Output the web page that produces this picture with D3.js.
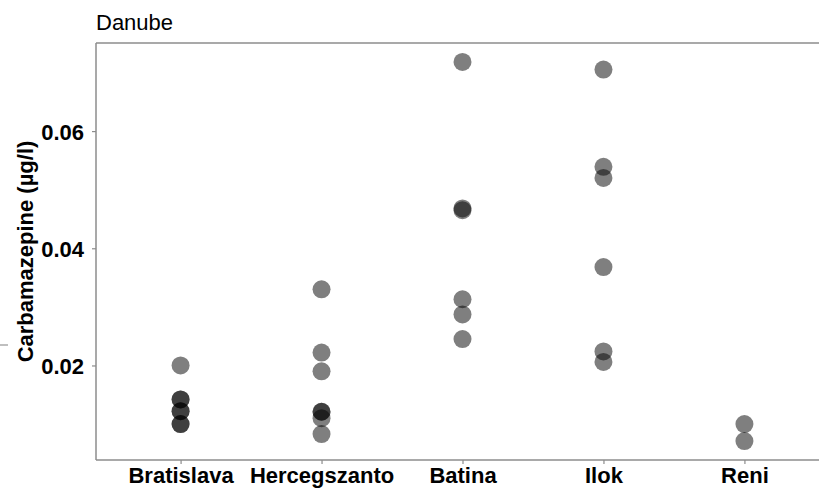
<!DOCTYPE html>
<html>
<head>
<meta charset="utf-8">
<script src="https://cdn.jsdelivr.net/npm/d3@7"></script>
<style>
  body { margin: 0; background: #fff; }
  svg { display: block; font-family: "Liberation Sans", Arial, sans-serif; }
</style>
</head>
<body>
<div id="chart"></div>
<script>
// sampling sites along the Danube and their carbamazepine measurements (µg/l)
const sites = ['Bratislava', 'Hercegszanto', 'Batina', 'Ilok', 'Reni']
const bratislava = [0.020, 0.0142, 0.0142, 0.0122, 0.0122, 0.0100, 0.0100]
const hercegszanto = [0.033, 0.0222, 0.019, 0.0121, 0.0121, 0.0110, 0.0083]
const batina = [0.0718, 0.0468, 0.0465, 0.0313, 0.0287, 0.0245]
const ilok = [0.0705, 0.0539, 0.0520, 0.0368, 0.0224, 0.0206]
const reni = [0.0100, 0.0071]
const yTicks = [0.02, 0.04, 0.06]

const values = [bratislava, hercegszanto, batina, ilok, reni]
const points = []
sites.forEach((site, i) => values[i].forEach(v => points.push({site, value: v})))

const width = 819, height = 488
const margin = {top: 43, right: -10, bottom: 28, left: 96}

const svg = d3.select('#chart').append('svg')
  .attr('width', width)
  .attr('height', height)

// ggplot-ish discrete scale: 0.6 units of padding on each side
const x = d3.scalePoint()
  .domain(sites)
  .range([margin.left, width - margin.right])
  .padding(0.6)

const yMin = d3.min(points, d => d.value), yMax = d3.max(points, d => d.value)
const pad = (yMax - yMin) * 0.05
const y = d3.scaleLinear()
  .domain([yMin - pad, yMax + pad])
  .range([height - margin.bottom, margin.top])

const frame = '#8c8c8c'
const fontSize = '22px'

// panel border (top + left), bottom axis
svg.append('line')
  .attr('x1', margin.left).attr('x2', width)
  .attr('y1', margin.top).attr('y2', margin.top)
  .attr('stroke', frame).attr('stroke-width', 1.5)
svg.append('line')
  .attr('x1', margin.left).attr('x2', margin.left)
  .attr('y1', margin.top).attr('y2', height - margin.bottom)
  .attr('stroke', frame).attr('stroke-width', 1.5)

const xAxis = svg.append('g')
  .attr('transform', `translate(0,${height - margin.bottom})`)
  .call(d3.axisBottom(x).tickSize(4).tickPadding(4))
xAxis.select('.domain').attr('stroke', frame).attr('stroke-width', 1.5)
  .attr('d', `M${margin.left},0H${width}`)
xAxis.selectAll('.tick line').attr('stroke', frame).attr('stroke-width', 1.2)
xAxis.selectAll('.tick text')
  .attr('fill', '#000').style('font-size', fontSize).style('font-weight', 'bold')
  .attr('dy', '0.68em')

const yAxis = svg.append('g')
  .attr('transform', `translate(${margin.left},0)`)
  .call(d3.axisLeft(y).tickValues(yTicks).tickFormat(d3.format('.2f')).tickSize(4).tickPadding(8))
yAxis.select('.domain').remove()
yAxis.selectAll('.tick line').attr('stroke', frame).attr('stroke-width', 1.2)
yAxis.selectAll('.tick text')
  .attr('fill', '#000').style('font-size', fontSize).style('font-weight', 'bold')
  .attr('dy', '0.36em')

svg.append('text')
  .attr('transform', `translate(33,${(margin.top + height - margin.bottom) / 2}) rotate(-90)`)
  .attr('text-anchor', 'middle')
  .style('font-size', fontSize).style('font-weight', 'bold')
  .text('Carbamazepine (µg/l)')

svg.append('text')
  .attr('x', margin.left).attr('y', 30)
  .style('font-size', fontSize)
  .text('Danube')

// stray dash at the left edge of the original image
svg.append('line')
  .attr('x1', 0).attr('x2', 8).attr('y1', 345).attr('y2', 345)
  .attr('stroke', '#aaa').attr('stroke-width', 1.5)

const plot = svg.append('g')
plot.selectAll('circle')
  .data(points)
  .enter().append('circle')
  .attr('cx', d => x(d.site))
  .attr('cy', d => y(d.value))
  .attr('r', 9)
  .attr('fill', '#000')
  .attr('fill-opacity', 0.5)
</script>
</body>
</html>
